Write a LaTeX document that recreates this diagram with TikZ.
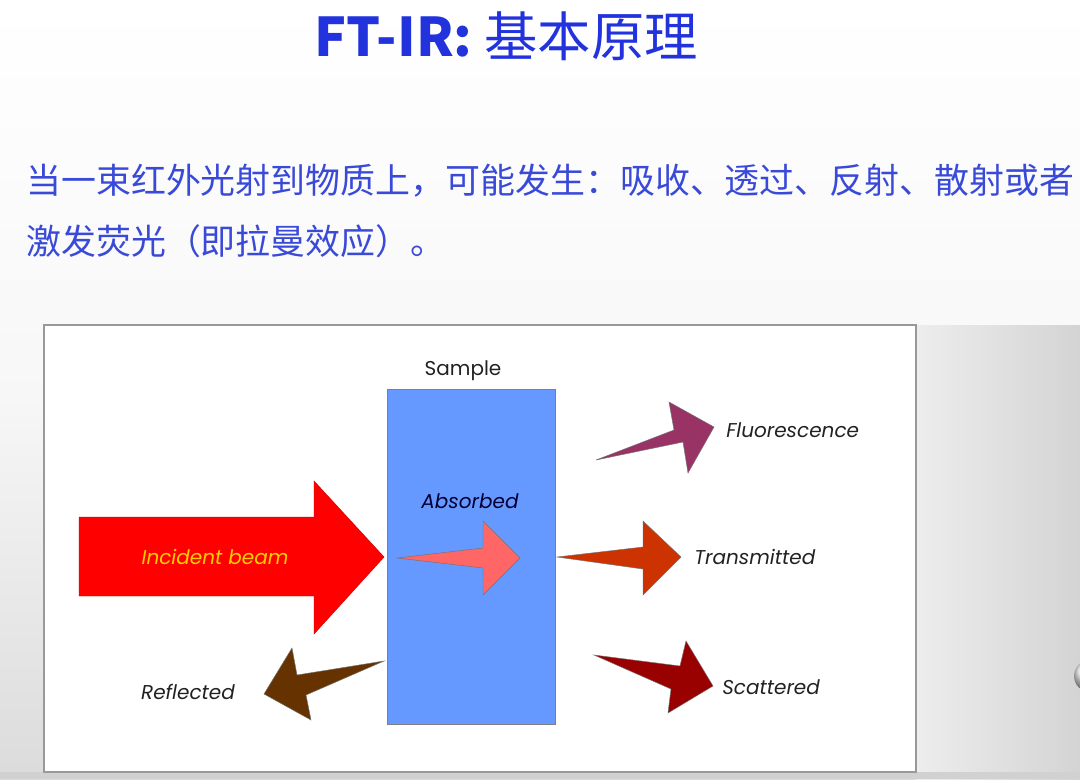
\documentclass[tikz,border=0pt]{standalone}
\usepackage{fontspec}
\setmainfont{Poppins}
\newfontfamily\cjk{Noto Sans CJK SC}
\usetikzlibrary{shapes.geometric}
\definecolor{titleblue}{HTML}{2233DD}
\definecolor{bodyblue}{HTML}{3A4AD8}
\definecolor{sampleblue}{HTML}{6699FF}
\definecolor{incred}{HTML}{FF0000}
\definecolor{inctext}{HTML}{FFCC00}
\definecolor{absred}{HTML}{FF6666}
\definecolor{transred}{HTML}{CC3300}
\definecolor{fluor}{HTML}{993366}
\definecolor{scat}{HTML}{990000}
\definecolor{refl}{HTML}{663300}
\definecolor{labeltext}{HTML}{222222}
\tikzset{
  blockarrow/.style={draw=black!55, line width=0.35pt, line join=miter},
  lbl/.style={font=\fontsize{15}{17}\selectfont\itshape, text=labeltext, inner sep=0pt},
}
\begin{document}
\begin{tikzpicture}[x=0.75pt,y=-0.75pt]
\useasboundingbox (0,0) rectangle (1080,779);
% slide background
\shade[top color=white, bottom color=black!14, middle color=black!3] (0,0) rectangle (1080,779);
\shade[left color=black!7, right color=black!17] (916,325) rectangle (1080,779);
\fill[black!18] (0,772) rectangle (1080,779);
% decorative drop at right edge
\shade[ball color=black!10] (1090,676) circle (16);
% title
\node (title) at (506,36) {\cjk\fontsize{40}{46}\selectfont\color{titleblue}\textbf{FT-IR:} 基本原理};
% body text
\node[anchor=west, inner sep=0pt] (line1) at (26,181) {\cjk\fontsize{26.2}{30}\selectfont\color{bodyblue}当一束红外光射到物质上，可能发生：吸收、透过、反射、散射或者};
\node[anchor=west, inner sep=0pt] (line2) at (26,241) {\cjk\fontsize{26.2}{30}\selectfont\color{bodyblue}激发荧光（即拉曼效应）。};
% diagram frame
\draw[fill=white, draw=black!40, line width=0.8pt] (44,325) rectangle (916,772);
% sample
\node[draw=black!50, fill=sampleblue, line width=0.5pt, minimum width=168*0.75pt, minimum height=335*0.75pt, inner sep=0pt] (sample) at (471,557) {};
\node[lbl, font=\fontsize{15}{17}\selectfont] (samplelbl) at (463,371) {Sample};
% incident beam
\fill[incred, blockarrow, draw=incred!80!black] (79,517) -- (314,517) -- (314,481) -- (384,557) -- (314,634) -- (314,596) -- (79,596) -- cycle;
\node[lbl, text=inctext] (inc) at (215,557) {Incident beam};
% absorbed
\fill[absred, blockarrow] (397,558) -- (483,548) -- (483,521) -- (520,558) -- (483,595) -- (483,568) -- cycle;
\node[lbl, text=black!80!blue] (abs) at (470,501) {Absorbed};
% transmitted
\fill[transred, blockarrow] (557,557) -- (643,547) -- (643,521) -- (681,557) -- (643,595) -- (643,569) -- cycle;
\node[lbl, anchor=west] (trans) at (694,557) {Transmitted};
% fluorescence
\fill[fluor, blockarrow] (596,460) -- (674,430) -- (669,402) -- (714,427) -- (688,473) -- (683,442) -- cycle;
\node[lbl, anchor=west] (fl) at (726,430) {Fluorescence};
% scattered
\fill[scat, blockarrow] (594,655) -- (680,666) -- (686,641) -- (713,686) -- (668,713) -- (671,689) -- cycle;
\node[lbl, anchor=west] (sc) at (722,687) {Scattered};
% reflected
\fill[refl, blockarrow] (384,661) -- (297,675) -- (292,648) -- (264,694) -- (311,720) -- (306,695) -- cycle;
\node[lbl] (rf) at (188,692) {Reflected};
\end{tikzpicture}
\end{document}
